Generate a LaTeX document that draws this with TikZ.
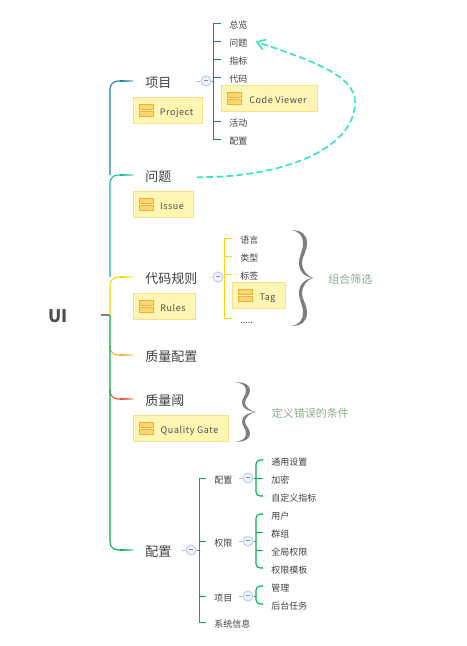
\documentclass[tikz,border=0pt]{standalone}
\usepackage{fontspec}
\usetikzlibrary{arrows.meta}
\setmainfont{Noto Sans CJK SC}
\newfontfamily\boxfont[LetterSpace=6.5]{Noto Sans CJK SC}
\definecolor{boxfill}{HTML}{FFF6B4}
\definecolor{boxedge}{HTML}{FBE08C}
\definecolor{barfill}{HTML}{FFD670}
\definecolor{baredge}{HTML}{F2AE38}
\definecolor{foldblue}{HTML}{BFCEF4}
\definecolor{foldpale}{HTML}{F0F4FF}
\definecolor{foldminus}{HTML}{7F8FB4}
\definecolor{linkcyan}{HTML}{45E0C8}
\definecolor{notegreen}{HTML}{8CAE8C}
\definecolor{bracegray}{HTML}{7F7F7F}
\definecolor{lineteal}{HTML}{1F7F96}
\definecolor{lineissue}{HTML}{12B8A4}
\definecolor{lineyellow}{HTML}{FFD900}
\definecolor{lineorange}{HTML}{F7A93B}
\definecolor{linered}{HTML}{EC4A32}
\definecolor{linegreen}{HTML}{00B050}
\tikzset{
  root/.style={font=\fontsize{13pt}{16pt}\selectfont\bfseries,text=black!70,inner xsep=24.75pt,inner ysep=0pt,text height=11pt,text depth=0pt},
  topic/.style={anchor=west,font=\fontsize{9.75pt}{12pt}\selectfont,text=black!75,inner xsep=9pt,inner ysep=0pt,text height=11pt,text depth=0.6pt},
  leaf/.style={anchor=west,font=\fontsize{6.75pt}{8pt}\selectfont,text=black!75,inner xsep=6pt,inner ysep=0pt,text height=8.5pt,text depth=0.3pt},
  note/.style={anchor=west,font=\fontsize{8.25pt}{10pt}\selectfont,text=notegreen,inner sep=0pt},
  modbox/.style={draw=boxedge,fill=boxfill,line width=0.75pt,anchor=north west,minimum height=19.5pt,inner sep=0pt,
    text height=7.3pt,text depth=0.5pt,
    font=\fontsize{6.75pt}{8pt}\boxfont,text=black!70,execute at begin node={\hspace*{12.75pt}},
    path picture={
      \draw[baricon] ([shift={(6,7)}]path picture bounding box.north west) rectangle ++(14,5);
      \draw[baricon] ([shift={(6,14)}]path picture bounding box.north west) rectangle ++(14,5);
    }},
  baricon/.style={draw=baredge,fill=barfill,line width=0.6pt},
  foldmark/.style={circle,draw=foldblue,fill=foldpale,line width=0.8pt,minimum size=7.5pt,inner sep=0pt},
  branch/.style={line width=0.8pt,rounded corners=6pt},
  rail/.style={line width=0.75pt,line join=miter},
  bigbrace/.pic={
    \foreach \s in {1,-1}
      \fill[bracegray,yscale=\s] (0,-48) .. controls (11,-48) and (16,-43) .. (16,-35) .. controls (16,-26) and (11,-22) .. (11,-15) .. controls (11,-8) and (16,-2) .. (22,0) .. controls (14,-1) and (8,-6) .. (8,-15) .. controls (8,-23) and (12,-26) .. (12,-35) .. controls (12,-42) and (8,-47) .. (0,-48) -- cycle;
  }
}
\newcommand{\foldsign}{\textcolor{foldminus}{\rule[0.9pt]{3.4pt}{0.6pt}}}
\begin{document}
\begin{tikzpicture}[x=0.75pt,y=-0.75pt]
\useasboundingbox (0,0) rectangle (467,646);

\node[root] (ui) at (58,315) {UI};
\coordinate (hub) at (110,315);

\node[topic] (project) at (133,81) {项目};
\node[topic] (issue) at (133,175) {问题};
\node[topic] (rules) at (133,277) {代码规则};
\node[topic] (profile) at (133,355) {质量配置};
\node[topic] (gate) at (133,399) {质量阈};
\node[topic] (config) at (133,550) {配置};

\node[modbox,minimum width=51.75pt] (projectbox) at (133,97) {Project};
\node[modbox,minimum width=45pt] (issuebox) at (133,191) {Issue};
\node[modbox,minimum width=46.5pt] (rulesbox) at (133,293) {Rules};
\node[modbox,minimum width=71.25pt] (gatebox) at (133,415) {Quality Gate};
\node[modbox,minimum width=72pt] (viewerbox) at (221,85) {Code Viewer};
\node[modbox,minimum width=39.75pt] (tagbox) at (232,282) {Tag};

\draw[black!50,line width=0.8pt] (ui.east) -- (hub);
\draw[branch,lineteal] (hub |- issue.west) -- (hub |- project.west) -- (project.west);
\draw[branch,lineissue] (hub |- rules.west) -- (hub |- issue.west) -- (issue.west);
\draw[branch,lineyellow] (hub) -- (hub |- rules.west) -- (rules.west);
\draw[branch,lineorange] ([yshift=7pt]hub |- profile.west) -- (hub |- profile.west) -- (profile.west);
\draw[branch,linered] ([yshift=7pt]hub |- gate.west) -- (hub |- gate.west) -- (gate.west);
\draw[branch,linegreen] (hub) -- (hub |- config.west) -- (config.west);
\foreach \n/\c in {project/lineteal,issue/lineissue,rules/lineyellow,profile/lineorange,gate/linered,config/linegreen}
  \shade[left color=\c,right color=\c!35] ([shift={(-13,-0.55)}]\n.west) rectangle ([shift={(0,0.55)}]\n.west);

% project
\node[foldmark] (projectfold) at (206,81) {\foldsign};
\coordinate (projectrail) at (213,81);
\node[leaf] (overview) at (221,23.5) {总览};
\node[leaf] (issues) at (221,41.5) {问题};
\node[leaf] (measures) at (221,59.5) {指标};
\node[leaf] (code) at (221,77.5) {代码};
\node[leaf] (activity) at (221,121.5) {活动};
\node[leaf] (settings) at (221,139.5) {配置};
\draw[lineteal!50,line width=0.6pt] (projectfold.west) -- ++(-3,0);
\draw[rail,lineteal] (projectfold.east) -- (projectrail);
\draw[rail,lineteal] (overview.west) -- (overview.west -| projectrail) -- (settings.west -| projectrail) -- (settings.west);
\foreach \n in {issues,measures,code,activity}
  \draw[rail,lineteal] (\n.west -| projectrail) -- (\n.west);
\draw[linkcyan,line width=1.3pt,dash pattern=on 5pt off 2.5pt,shorten <=9.75pt,-{Straight Barb[length=6pt,width=8pt]}]
  ([yshift=-1.5pt]issue.east) .. controls (280,178) and (355,150) .. (355,102) .. controls (355,75) and (310,60) .. (issues.east);

% rules
\node[foldmark] (rulesfold) at (218,277) {\foldsign};
\coordinate (rulesrail) at (224,277);
\node[leaf] (language) at (232,238) {语言};
\node[leaf] (type) at (232,256) {类型};
\node[leaf] (tag) at (232,274) {标签};
\node[leaf] (more) at (232,318) {.....};
\draw[lineyellow!60,line width=0.6pt] (rulesfold.west) -- ++(-3,0);
\draw[rail,lineyellow] (rulesfold.east) -- (rulesrail);
\draw[rail,lineyellow] (language.west) -- (language.west -| rulesrail) -- (more.west -| rulesrail) -- (more.west);
\foreach \n in {type,tag}
  \draw[rail,lineyellow] (\n.west -| rulesrail) -- (\n.west);
\pic at (291,278) {bigbrace};
\node[note] (rulesnote) at (328,279) {组合筛选};
\pic[yscale=0.625] at (234,412) {bigbrace};
\node[note] (gatenote) at (271.5,413) {定义错误的条件};

% config
\node[foldmark] (configfold) at (191,550) {\foldsign};
\coordinate (configrail) at (199,550);
\node[leaf] (general) at (206,478) {配置};
\node[leaf] (security) at (206,541) {权限};
\node[leaf] (projects) at (206,596) {项目};
\node[leaf] (sysinfo) at (206,622) {系统信息};
\draw[linegreen!50,line width=0.6pt] (configfold.west) -- ++(-3,0);
\draw[rail,linegreen] (configfold.east) -- (configrail);
\draw[rail,linegreen] (general.west) -- (general.west -| configrail) -- (sysinfo.west -| configrail) -- (sysinfo.west);
\foreach \n in {security,projects}
  \draw[rail,linegreen] (\n.west -| configrail) -- (\n.west);

\node[foldmark] (generalfold) at (248,478) {\foldsign};
\node[foldmark] (securityfold) at (248,541) {\foldsign};
\node[foldmark] (projectsfold) at (248,596) {\foldsign};
\foreach \n in {generalfold,securityfold,projectsfold}
  \draw[linegreen!50,line width=0.6pt] (\n.west) -- ++(-3,0);
\coordinate (subrail) at (256,478);

\node[leaf] (setup) at (263,460) {通用设置};
\node[leaf] (encrypt) at (263,478) {加密};
\node[leaf] (custom) at (263,496) {自定义指标};
\draw[branch,rounded corners=3pt,linegreen] (setup.west) -- (setup.west -| subrail) -- (custom.west -| subrail) -- (custom.west);
\draw[rail,linegreen] (generalfold.east) -- (encrypt.west);

\node[leaf] (users) at (263,514) {用户};
\node[leaf] (groups) at (263,532) {群组};
\node[leaf] (global) at (263,550) {全局权限};
\node[leaf] (templates) at (263,568) {权限模板};
\draw[branch,rounded corners=3pt,linegreen] (users.west) -- (users.west -| subrail) -- (templates.west -| subrail) -- (templates.west);
\draw[rail,linegreen] (securityfold.east) -- (securityfold.east -| subrail);
\foreach \n in {groups,global}
  \draw[rail,linegreen] (\n.west -| subrail) -- (\n.west);

\node[leaf] (manage) at (263,586) {管理};
\node[leaf] (tasks) at (263,604) {后台任务};
\draw[branch,rounded corners=3pt,linegreen] (manage.west) -- (manage.west -| subrail) -- (tasks.west -| subrail) -- (tasks.west);
\draw[rail,linegreen] (projectsfold.east) -- (projectsfold.east -| subrail);
\end{tikzpicture}
\end{document}
